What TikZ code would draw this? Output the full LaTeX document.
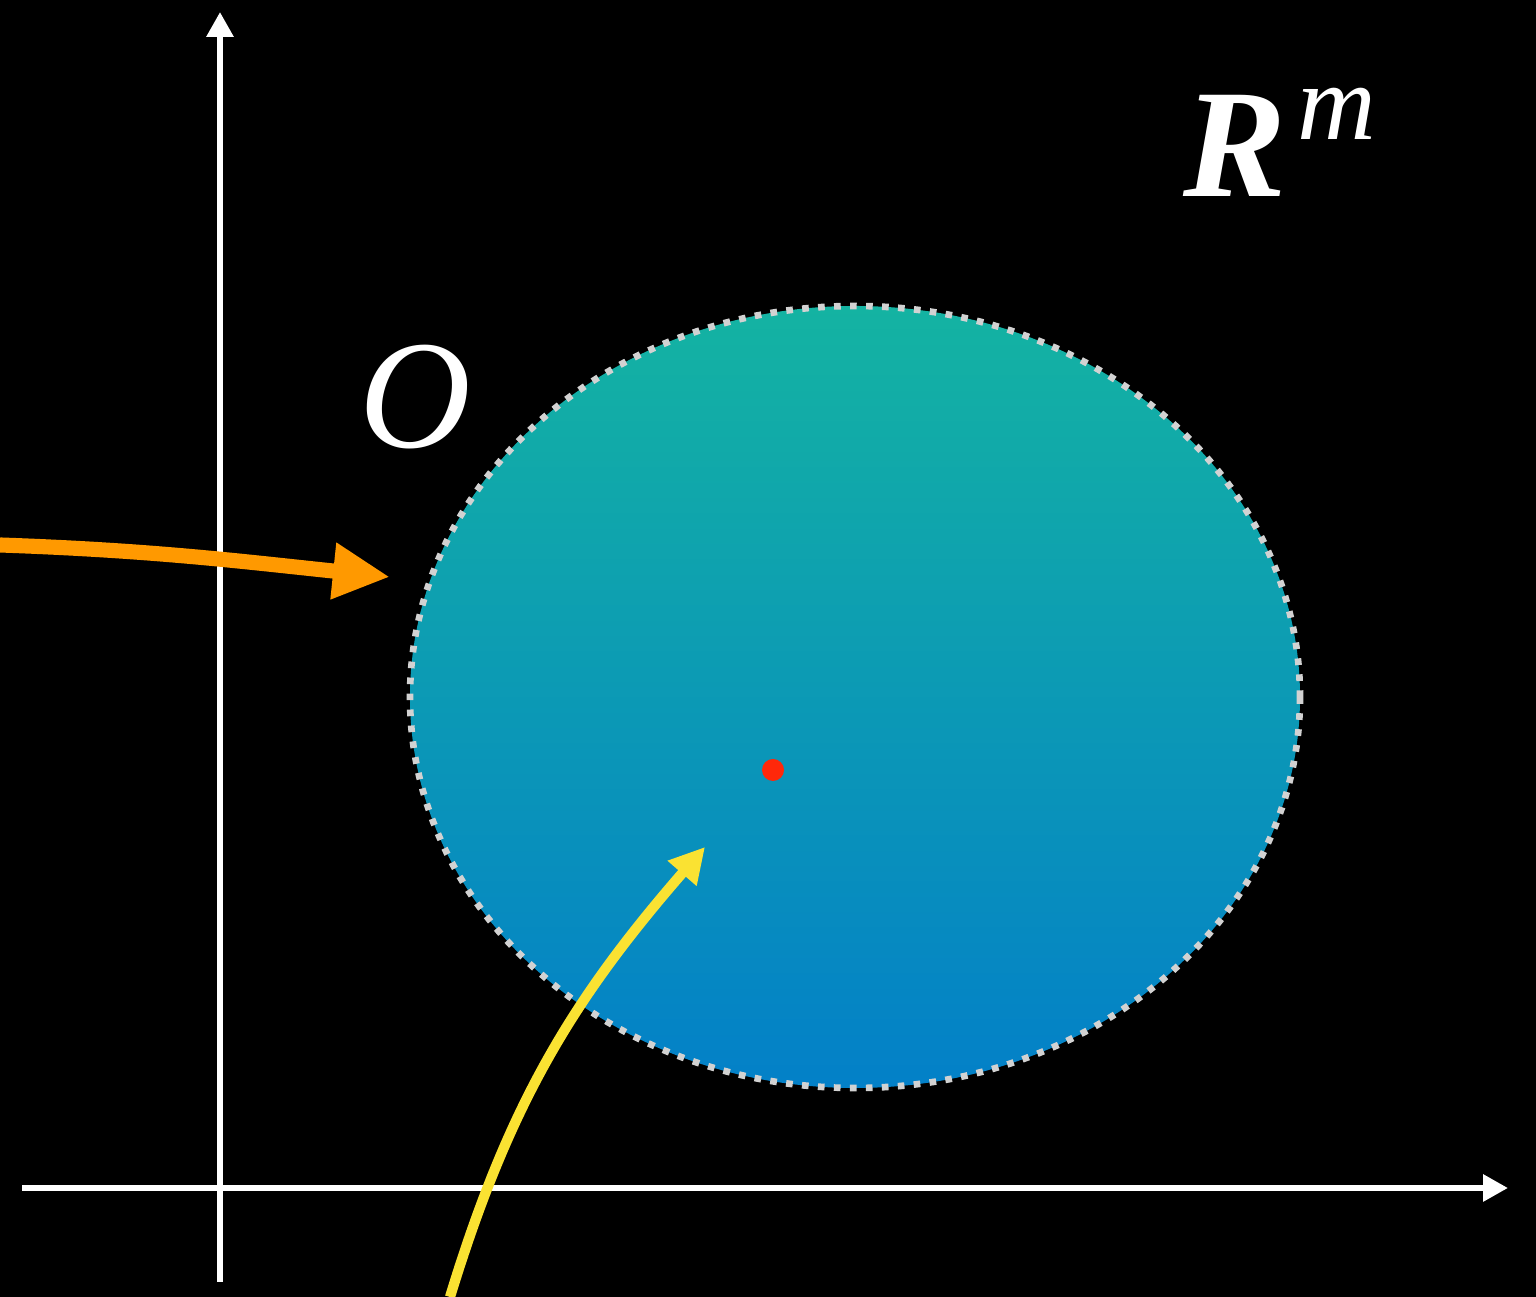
\documentclass[tikz,border=0pt]{standalone}
\usepackage{fontspec}
\setmainfont{Liberation Serif}
\usetikzlibrary{arrows.meta,shapes.geometric}

\definecolor{tealtop}{RGB}{20,179,162}
\definecolor{bluebot}{RGB}{3,128,200}
\definecolor{dotgray}{RGB}{210,210,210}
\definecolor{arroworange}{RGB}{255,153,0}
\definecolor{arrowyellow}{RGB}{250,226,50}
\definecolor{pointred}{RGB}{255,40,10}

\begin{document}
\begin{tikzpicture}[
  axis/.style={draw=white,line width=1.7pt,-{Triangle[length=0.25cm,width=0.26cm]}},
  bigletter/.style={text=white,inner sep=0pt,font=\fontsize{44}{50}\selectfont}]
  \fill[black] (0,0) rectangle (15.36,12.97);
  \useasboundingbox (0,0) rectangle (15.36,12.97);
  % axes
  \coordinate (xstart) at (0.22,1.09);
  \coordinate (xend) at (15.08,1.09);
  \coordinate (ystart) at (2.20,0.15);
  \coordinate (yend) at (2.20,12.85);
  \draw[axis] (xstart) -- (xend);
  \draw[axis] (ystart) -- (yend);
  % the open set and its point
  \node[shape=ellipse,inner sep=0pt,minimum width=8.9cm,minimum height=7.82cm,
    top color=tealtop,bottom color=bluebot,draw=dotgray,line width=1.9pt,
    dash pattern=on 1.9pt off 2.65pt] (oset) at (8.55,6.00) {};
  \node[shape=circle,fill=pointred,inner sep=0pt,minimum size=0.22cm] (pt) at (7.73,5.27) {};
  % labels
  \node[bigletter] (olabel) at (4.15,9.00) {\textit{O}};
  \node[bigletter,anchor=base west] (space) at (11.83,11.00)
    {\textbf{\textit{R}}\kern3pt\raisebox{0.57cm}{\fontsize{31}{34}\selectfont\textit{m}}};
  % arrows
  \coordinate (ostart) at (0,7.52);
  \coordinate (otip) at (3.90,7.20);
  \coordinate (ystartpt) at (4.50,0);
  \coordinate (ytip) at (7.05,4.50);
  \draw[arroworange,line width=4.3pt,-{Triangle[length=0.57cm,width=0.53cm]}]
    (ostart) to[out=-2,in=174] (otip);
  \draw[arrowyellow,line width=2.9pt,-{Triangle[length=0.35cm,width=0.36cm]}]
    (ystartpt) to[out=73,in=229] (ytip);
\end{tikzpicture}
\end{document}
